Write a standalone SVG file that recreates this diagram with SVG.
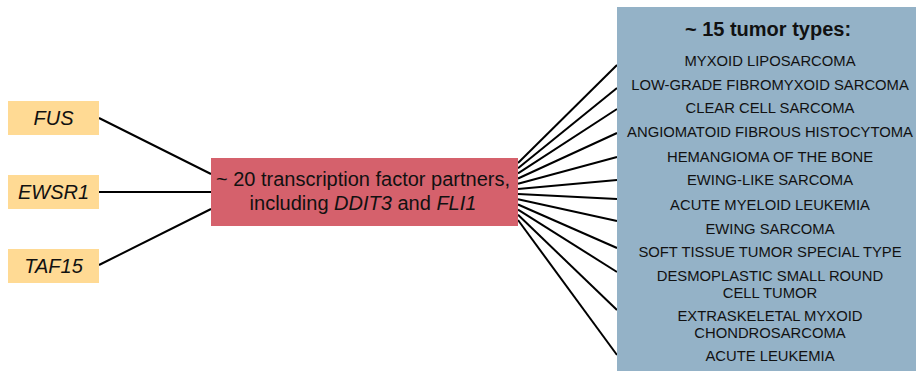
<svg xmlns="http://www.w3.org/2000/svg" width="916" height="371" viewBox="0 0 916 371">
<style>
.gene{fill:#FFDA94}
.gt{font-family:"Liberation Sans",Arial,sans-serif;font-size:20px;font-style:italic;fill:#111;text-anchor:middle}
.mt{font-family:"Liberation Sans",Arial,sans-serif;font-size:20px;fill:#111;text-anchor:middle}
.tt{font-family:"Liberation Sans",Arial,sans-serif;font-size:20px;font-weight:bold;fill:#111;text-anchor:middle}
.it{font-family:"Liberation Sans",Arial,sans-serif;font-size:14.8px;fill:#111;text-anchor:middle}
.c line{stroke:#000;stroke-width:2}
</style>
<rect width="916" height="371" fill="#fff"/>
<g class="c" id="connectors">
<line x1="99" y1="118" x2="211" y2="174"/>
<line x1="99" y1="192" x2="211" y2="192"/>
<line x1="99" y1="265" x2="211" y2="209"/>
<line x1="518" y1="163" x2="617" y2="65"/>
<line x1="518" y1="168.2" x2="617" y2="88"/>
<line x1="518" y1="173.4" x2="617" y2="109"/>
<line x1="518" y1="178.5" x2="617" y2="133"/>
<line x1="518" y1="183.7" x2="617" y2="157"/>
<line x1="518" y1="188.9" x2="617" y2="180"/>
<line x1="518" y1="194.1" x2="617" y2="199"/>
<line x1="518" y1="199.3" x2="617" y2="221"/>
<line x1="518" y1="204.5" x2="617" y2="248"/>
<line x1="518" y1="209.6" x2="617" y2="272"/>
<line x1="518" y1="214.8" x2="617" y2="310"/>
<line x1="518" y1="220" x2="617" y2="355"/>
</g>
<g id="fus"><rect class="gene" x="8" y="101" width="91" height="34"/><text class="gt" x="53.5" y="125">FUS</text></g>
<g id="ewsr1"><rect class="gene" x="8" y="175" width="91" height="34"/><text class="gt" x="53.5" y="199">EWSR1</text></g>
<g id="taf15"><rect class="gene" x="8" y="249" width="91" height="34"/><text class="gt" x="53.5" y="273">TAF15</text></g>
<g id="partners"><rect x="211" y="158" width="307" height="68" fill="#D5616C"/>
<text class="mt" x="363" y="186">~ 20 transcription factor partners,</text>
<text class="mt" x="363" y="210">including <tspan font-style="italic">DDIT3</tspan> and <tspan font-style="italic">FLI1</tspan></text></g>
<g id="tumors"><rect x="617" y="7" width="299" height="364" fill="#94B2C7"/>
<text class="tt" x="768" y="36">~ 15 tumor types:</text>
<text class="it" x="770" y="66">MYXOID LIPOSARCOMA</text>
<text class="it" x="770" y="90">LOW-GRADE FIBROMYXOID SARCOMA</text>
<text class="it" x="770" y="113">CLEAR CELL SARCOMA</text>
<text class="it" x="770" y="137">ANGIOMATOID FIBROUS HISTOCYTOMA</text>
<text class="it" x="770" y="162">HEMANGIOMA OF THE BONE</text>
<text class="it" x="770" y="185">EWING-LIKE SARCOMA</text>
<text class="it" x="770" y="210">ACUTE MYELOID LEUKEMIA</text>
<text class="it" x="770" y="234">EWING SARCOMA</text>
<text class="it" x="770" y="257">SOFT TISSUE TUMOR SPECIAL TYPE</text>
<text class="it" x="770" y="281">DESMOPLASTIC SMALL ROUND</text>
<text class="it" x="770" y="297.5">CELL TUMOR</text>
<text class="it" x="770" y="321">EXTRASKELETAL MYXOID</text>
<text class="it" x="770" y="337.5">CHONDROSARCOMA</text>
<text class="it" x="770" y="361">ACUTE LEUKEMIA</text>
</g>
</svg>
